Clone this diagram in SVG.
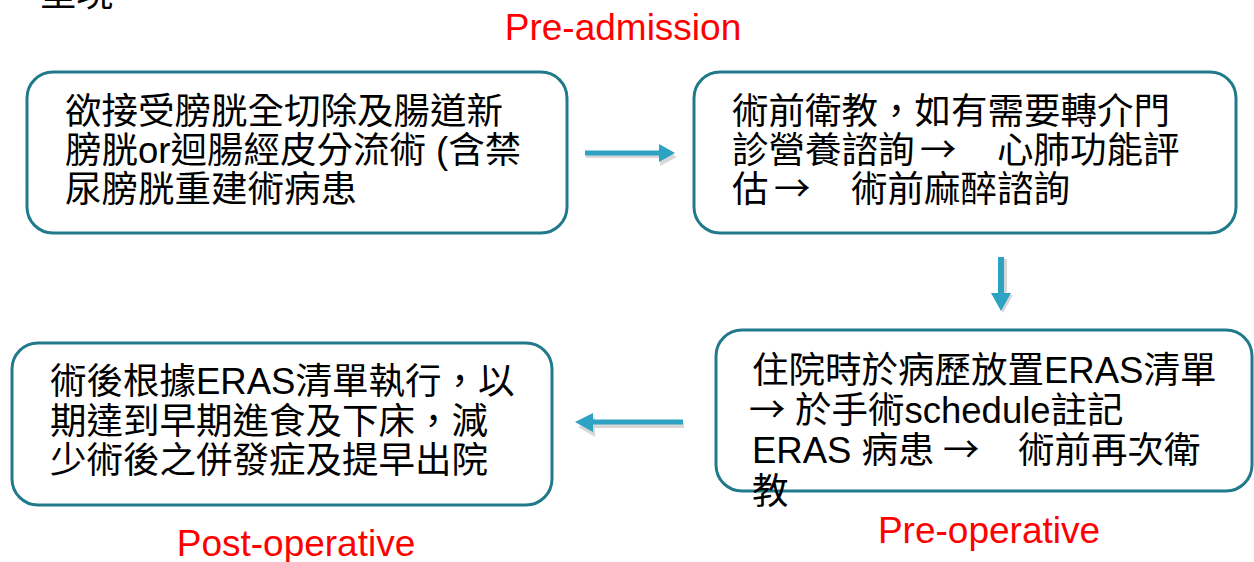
<svg xmlns="http://www.w3.org/2000/svg" width="1254" height="562" viewBox="0 0 1254 562">
<defs>
<style>
.box{fill:#ffffff;stroke:#217a8b;stroke-width:3}
.t{font-family:"Liberation Sans","Noto Sans CJK TC",sans-serif;font-size:36.5px;fill:#000}
.ar{font-family:"Noto Sans CJK TC",sans-serif}
.lbl{font-family:"Liberation Sans",Arial,sans-serif;font-size:37px;fill:#ff0000;text-anchor:middle}
.arr{fill:#2ea2c3}
.sh{fill:#bdbdbd;opacity:0.6}
</style>
</defs>
<rect width="1254" height="562" fill="#ffffff"/>
<text class="t" x="40" y="6" fill="#555">呈現</text>
<text class="lbl" x="623" y="40">Pre-admission</text>
<text class="lbl" x="989" y="543">Pre-operative</text>
<text class="lbl" x="296" y="556">Post-operative</text>
<g id="connectors">
<g id="c1">
<path class="sh" d="M586 154 H660 V146 L677 157 L660 166 V158 H586 Z"/>
<path class="arr" d="M585 150.5 H659 V144 L675 153 L659 162 V155.5 H585 Z"/>
</g>
<g id="c2">
<path class="sh" d="M1000 259 H1007 V295 H1013 L1003 313 L994 295 H1000 Z"/>
<path class="arr" d="M998 257 H1004 V293 H1011 L1001 311 L991 293 H998 Z"/>
</g>
<g id="c3">
<path class="sh" d="M684 423 H595 V417 L578 427 L595 437 V428 H684 Z"/>
<path class="arr" d="M683 419.5 H593 V413 L575 422 L593 432 V424.5 H683 Z"/>
</g>
</g>
<g id="node1">
<rect class="box" x="27" y="72" width="540" height="161" rx="26"/>
<text class="t" x="65" y="124">欲接受膀胱全切除及腸道新</text>
<text class="t" x="65" y="163">膀胱or迴腸經皮分流術 (含禁</text>
<text class="t" x="65" y="202">尿膀胱重建術病患</text>
</g>
<g id="node2">
<rect class="box" x="694" y="72" width="542" height="161" rx="26"/>
<text class="t" x="732" y="124">術前衛教，如有需要轉介門</text>
<text class="t" y="163"><tspan x="732">診營養諮詢</tspan><tspan class="ar" x="920">→</tspan><tspan x="997">心肺功能評</tspan></text>
<text class="t" y="202"><tspan x="732">估</tspan><tspan class="ar" x="774">→</tspan><tspan x="851">術前麻醉諮詢</tspan></text>
</g>
<g id="node3">
<rect class="box" x="716" y="330" width="536" height="161" rx="26"/>
<text class="t" x="752" y="383">住院時於病歷放置ERAS清單</text>
<text class="t" y="423"><tspan class="ar" x="749">→</tspan><tspan x="795">於手術schedule註記</tspan></text>
<text class="t" y="463"><tspan x="752">ERAS 病患</tspan><tspan class="ar" x="943">→</tspan><tspan x="1018">術前再次衛</tspan></text>
<text class="t" x="752" y="504">教</text>
</g>
<g id="node4">
<rect class="box" x="12" y="343" width="540" height="162" rx="26"/>
<text class="t" x="50" y="394">術後根據ERAS清單執行，以</text>
<text class="t" x="50" y="434">期達到早期進食及下床，減</text>
<text class="t" x="50" y="473">少術後之併發症及提早出院</text>
</g>
</svg>
